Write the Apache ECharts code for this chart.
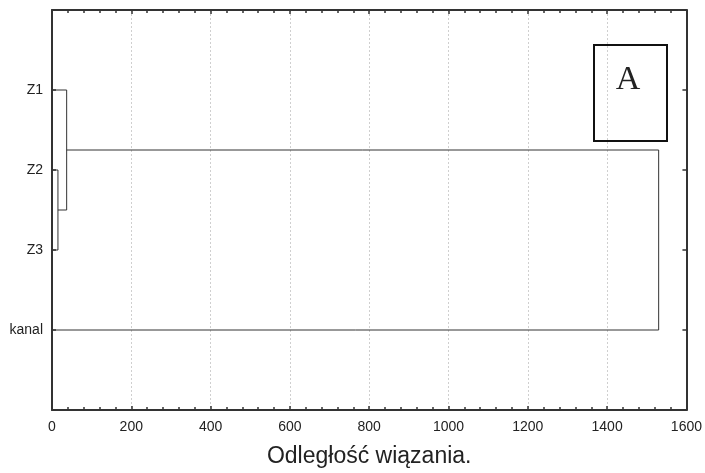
<!DOCTYPE html>
<html>
<head>
<meta charset="utf-8">
<script src="https://cdn.jsdelivr.net/npm/echarts@6/dist/echarts.min.js"></script>
<style>
  html, body { margin: 0; background: #fff; }
  #chart { width: 705px; height: 473px; }
</style>
</head>
<body>
<div id="chart"></div>
<script>
  // leaves, top to bottom
  const leaves = ['Z1', 'Z2', 'Z3', 'kanal'];
  // merges: [child A, child B, linkage distance]; 'm0', 'm1' refer to earlier merges
  const merges = [
    ['Z2', 'Z3', 15],
    ['Z1', 'm0', 37],
    ['m1', 'kanal', 1530]
  ];
  const xMin = 0;
  const xMax = 1600;
  const xStep = 200;

  const ink = '#222';
  const frame = '#333';

  // position of each node: x = distance, y = slot on the value axis
  const nodes = {};
  leaves.forEach(function (name, i) {
    nodes[name] = [0, leaves.length - i];
  });

  const series = merges.map(function (m, i) {
    const a = nodes[m[0]];
    const b = nodes[m[1]];
    const h = m[2];
    nodes['m' + i] = [h, (a[1] + b[1]) / 2];
    return {
      type: 'line',
      symbol: 'none',
      silent: true,
      animation: false,
      lineStyle: { color: '#333', width: 1 },
      data: [[a[0], a[1]], [h, a[1]], [h, b[1]], [b[0], b[1]]]
    };
  });

  function xAxisCfg(pos) {
    const bottom = pos === 'bottom';
    return {
      type: 'value',
      position: pos,
      min: xMin,
      max: xMax,
      interval: xStep,
      axisLine: { show: true, onZero: false, lineStyle: { color: frame, width: 2 } },
      axisTick: { show: true, inside: true, length: 4, lineStyle: { color: frame, width: 1.5 } },
      minorTick: { show: true, splitNumber: 5, length: 3, lineStyle: { color: frame, width: 1.5 } },
      axisLabel: {
        show: bottom, margin: 10, fontSize: 14, color: ink, fontFamily: 'Liberation Sans',
        formatter: function (v) { return String(v); }
      },
      splitLine: { show: bottom, lineStyle: { color: '#cfcfcf', type: [2, 2], width: 1 } },
      name: bottom ? 'Odległość wiązania.' : '',
      nameLocation: 'middle',
      nameGap: 35,
      nameTextStyle: { fontSize: 23, color: ink, fontFamily: 'Liberation Sans' }
    };
  }

  function yAxisCfg(pos) {
    const left = pos === 'left';
    return {
      type: 'value',
      position: pos,
      min: 0,
      max: leaves.length + 1,
      interval: 1,
      axisLine: { show: true, onZero: false, lineStyle: { color: frame, width: 2 } },
      axisTick: { show: true, inside: true, length: 4, lineStyle: { color: frame, width: 1.5 } },
      splitLine: { show: false },
      axisLabel: {
        show: left,
        margin: 9,
        fontSize: 14,
        color: ink,
        fontFamily: 'Liberation Sans',
        formatter: function (v) {
          const i = leaves.length - v;
          return (i >= 0 && i < leaves.length) ? leaves[i] : '';
        }
      }
    };
  }

  const chart = echarts.init(document.getElementById('chart'));
  chart.setOption({
    animation: false,
    grid: { left: 52, right: 18, top: 10, bottom: 63, containLabel: false },
    xAxis: [xAxisCfg('bottom'), xAxisCfg('top')],
    yAxis: [yAxisCfg('left'), yAxisCfg('right')],
    series: series,
    graphic: [{
      type: 'group',
      left: 593,
      top: 44,
      children: [{
        type: 'rect',
        shape: { x: 0, y: 0, width: 73, height: 96 },
        style: { fill: '#fff', stroke: '#111', lineWidth: 2 }
      }, {
        type: 'text',
        x: 34,
        y: 35,
        style: {
          text: 'A',
          fontSize: 34,
          fontFamily: 'Liberation Serif',
          fill: '#222',
          align: 'center',
          verticalAlign: 'middle'
        }
      }]
    }]
  });
</script>
</body>
</html>
